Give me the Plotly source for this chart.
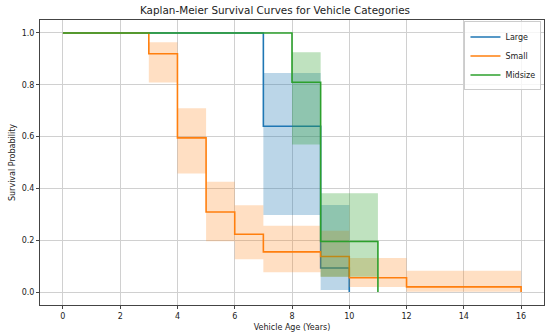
import plotly.graph_objects as go

# Large
large_t = [0, 7, 9, 10]
large_s = [1.0, 0.64, 0.093, 0.0]
large_hi = [1.0, 0.845, 0.336, 0.336]
large_lo = [1.0, 0.297, 0.008, 0.008]

# Small
small_t = [0, 3, 4, 5, 6, 7, 9, 10, 12, 16]
small_s = [1.0, 0.92, 0.595, 0.309, 0.223, 0.155, 0.137, 0.055, 0.020, 0.0]
small_hi = [1.0, 0.964, 0.709, 0.426, 0.335, 0.256, 0.237, 0.131, 0.082, 0.082]
small_lo = [1.0, 0.809, 0.458, 0.196, 0.127, 0.076, 0.059, 0.019, 0.001, 0.001]

# Midsize
mid_t = [0, 8, 9, 11]
mid_s = [1.0, 0.81, 0.195, 0.0]
mid_hi = [1.0, 0.926, 0.381, 0.381]
mid_lo = [1.0, 0.569, 0.059, 0.059]

series = [
    ("Large", large_t, large_s, large_hi, large_lo, "#1f77b4", "rgba(31,119,180,0.3)"),
    ("Small", small_t, small_s, small_hi, small_lo, "#ff7f0e", "rgba(255,127,14,0.25)"),
    ("Midsize", mid_t, mid_s, mid_hi, mid_lo, "#2ca02c", "rgba(44,160,44,0.3)"),
]

fig = go.Figure()
for name, t, s, hi, lo, col, fcol in series:
    fig.add_trace(go.Scatter(x=t, y=hi, mode="lines", line=dict(width=0, shape="hv"),
                             showlegend=False, hoverinfo="skip"))
    fig.add_trace(go.Scatter(x=t, y=lo, mode="lines", line=dict(width=0, shape="hv"),
                             fill="tonexty", fillcolor=fcol, showlegend=False, hoverinfo="skip"))
    fig.add_trace(go.Scatter(x=t, y=s, mode="lines", name=name,
                             line=dict(color=col, width=1.6, shape="hv")))

fig.update_layout(
    width=550, height=336,
    margin=dict(l=40, r=6, t=20, b=31),
    paper_bgcolor="white", plot_bgcolor="white",
    font=dict(family="DejaVu Sans", size=8, color="#222"),
    title=dict(text="Kaplan-Meier Survival Curves for Vehicle Categories",
               x=0.5, xanchor="center", y=0.97, yanchor="middle",
               font=dict(size=10.4, color="#222")),
    legend=dict(x=0.995, y=0.995, xanchor="right", yanchor="top",
                traceorder="normal",
                bgcolor="rgba(255,255,255,0.8)", bordercolor="#ccc", borderwidth=1,
                font=dict(size=8), itemwidth=30, tracegroupgap=0),
    showlegend=True,
)
fig.update_xaxes(range=[-0.8, 16.8], tickvals=list(range(0, 17, 2)),
                 showgrid=True, gridcolor="#d0d0d0", gridwidth=1,
                 showline=True, linecolor="#444", linewidth=1, mirror=True,
                 ticks="outside", ticklen=3, tickcolor="#444", zeroline=False,
                 title=dict(text="Vehicle Age (Years)", font=dict(size=8), standoff=4))
fig.update_yaxes(range=[-0.05, 1.05], tickvals=[0, 0.2, 0.4, 0.6, 0.8, 1.0],
                 tickformat=".1f",
                 showgrid=True, gridcolor="#d0d0d0", gridwidth=1,
                 showline=True, linecolor="#444", linewidth=1, mirror=True,
                 ticks="outside", ticklen=3, tickcolor="#444", zeroline=False,
                 title=dict(text="Survival Probability", font=dict(size=8), standoff=4))

fig.write_html("out.html", config={"displayModeBar": False},
               post_script="document.body.style.margin='0';")
